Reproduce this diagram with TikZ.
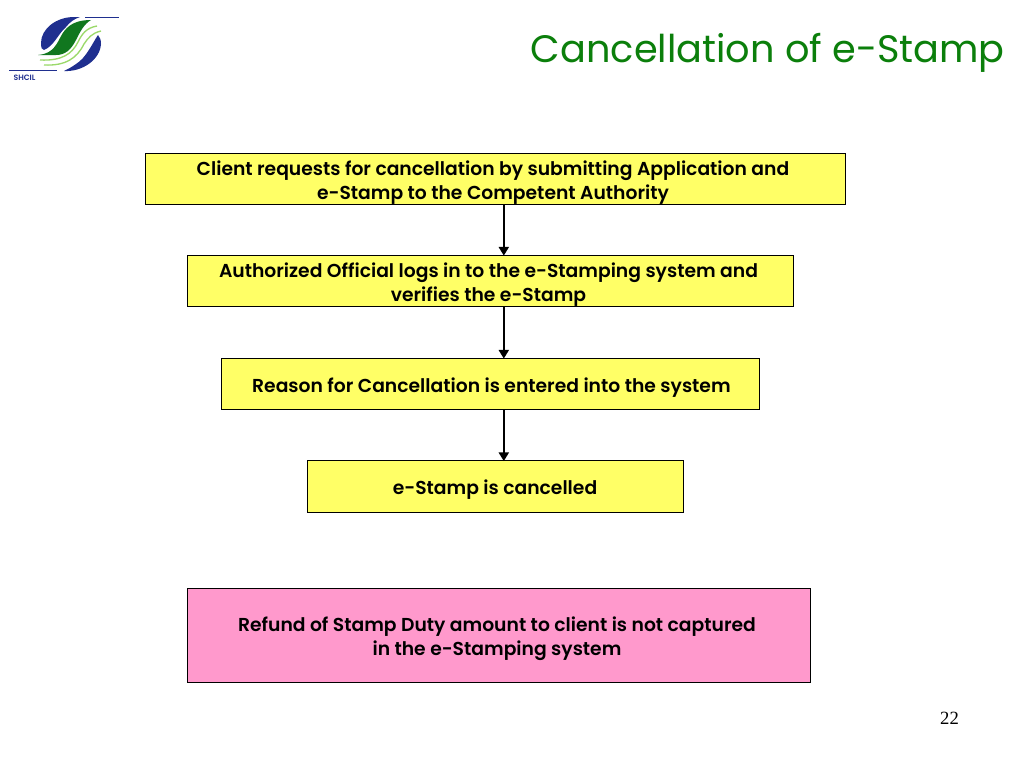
\documentclass[tikz,border=0pt]{standalone}
\usepackage{fontspec}
\setmainfont{Poppins}[BoldFont={Poppins SemiBold}]
\newfontfamily\numfont{Liberation Serif}
\usetikzlibrary{arrows.meta}
\definecolor{boxyellow}{HTML}{FFFF66}
\definecolor{boxpink}{HTML}{FF99CC}
\definecolor{titlegreen}{HTML}{0B7F0B}
\definecolor{logoblue}{HTML}{1F2F8F}
\definecolor{logogreen}{HTML}{11771F}
\definecolor{logolight}{HTML}{9BD96A}
\newcommand{\tshift}[3]{\kern#1\raisebox{#2}[\height][\depth]{\begin{tabular}{@{}c@{}}#3\end{tabular}}\kern-#1}
\tikzset{
  x=0.75pt,y=-0.75pt,
  flowbox/.style={draw=black,line width=0.6pt,fill=boxyellow,inner sep=0pt,align=center,font=\fontsize{14.05}{18}\selectfont\bfseries},
  pinkbox/.style={flowbox,fill=boxpink},
  flowarrow/.style={draw=black,line width=1.4pt,-{Triangle[length=6.5pt,width=7.5pt]},shorten >=-0.5pt}
}
\begin{document}
\begin{tikzpicture}
\useasboundingbox (0,0) rectangle (1024,768);
\fill[white] (0,0) rectangle (1024,768);
% logo
\fill[logoblue] (74,17) .. controls (56,17) and (41,29) .. (41,43) .. controls (41,48) and (42,50) .. (44,50)
  .. controls (54,46) and (58,34) .. (66,27) .. controls (70,22) and (74,19) .. (80,17) -- cycle;
\fill[logoblue] (64,71) .. controls (82,72) and (100,60) .. (101,44) .. controls (101,40) and (100,37) .. (98,35)
  .. controls (92,44) and (86,58) .. (76,64) .. controls (72,67) and (68,69) .. (64,71) -- cycle;
\fill[logogreen] (38,55) .. controls (50,54) and (55,48) .. (60,38) .. controls (65,28) and (72,20) .. (91,20)
  .. controls (84,24) and (80,32) .. (76,40) .. controls (71,50) and (65,55) .. (56,55) -- cycle;
\draw[logolight,line width=1pt] (40,60) .. controls (62,61) and (72,54) .. (78,42) .. controls (82,34) and (86,28) .. (97,26);
\draw[logolight,line width=1pt] (44,65) .. controls (66,66) and (77,58) .. (84,44) .. controls (88,38) and (92,33) .. (101,31);
\draw[logoblue,line width=1.1pt] (85,17.5) -- (119,17.5);
\draw[logoblue,line width=1.1pt] (9,70.5) -- (57,70.5);
\node[inner sep=0pt,text=logoblue,font=\fontsize{5.8}{6}\selectfont\bfseries] (logotext) at (24.5,78) {SHCIL};
% title
\node[anchor=east,inner sep=0pt,text=titlegreen,font=\fontsize{28.7}{32}\selectfont] (title) at (1005,53) {Cancellation of e-Stamp};
% boxes
\coordinate (axis) at (503.8,0);
\path (495,179) node[flowbox,minimum width=525pt,minimum height=38.5pt] (b1) {\tshift{-1.5pt}{-3pt}{Client requests for cancellation by submitting Application and\\e-Stamp to the Competent Authority}};
\path (490.5,281) node[flowbox,minimum width=454.5pt,minimum height=38.5pt] (b2) {\tshift{-1.5pt}{-3pt}{Authorized Official logs in to the e-Stamping system and\\verifies the e-Stamp}};
\path (490.5,384) node[flowbox,minimum width=403pt,minimum height=38.5pt] (b3) {\tshift{0.7pt}{-3pt}{Reason for Cancellation is entered into the system}};
\path (495,486.5) node[flowbox,minimum width=282pt,minimum height=38.5pt] (b4) {\tshift{0pt}{-2.5pt}{e-Stamp is cancelled}};
\path (499,635.5) node[pinkbox,minimum width=467.5pt,minimum height=71pt] (b5) {\tshift{-1.5pt}{-2.5pt}{Refund of Stamp Duty amount to client is not captured\\in the e-Stamping system}};
\draw[flowarrow] (b1.south -| axis) -- (b2.north -| axis);
\draw[flowarrow] (b2.south -| axis) -- (b3.north -| axis);
\draw[flowarrow] (b3.south -| axis) -- (b4.north -| axis);
\node[inner sep=0pt,font=\numfont\fontsize{14}{16}\selectfont] (page) at (949.5,718) {22};
\end{tikzpicture}
\end{document}
